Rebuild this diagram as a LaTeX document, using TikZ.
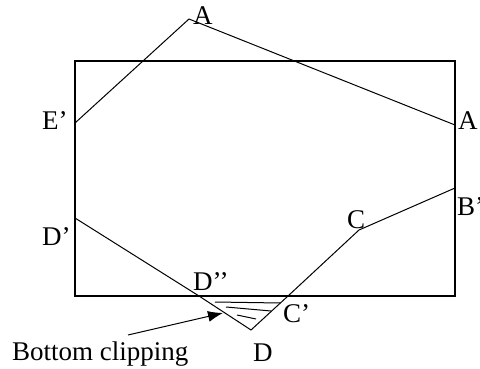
\documentclass[tikz,border=0pt]{standalone}
\usepackage{fontspec}
\setmainfont{Liberation Serif}
\usetikzlibrary{arrows.meta}

\begin{document}
\begin{tikzpicture}[x=1pt,y=-1pt,>=Latex,font=\fontsize{27}{31}\selectfont]

\tikzset{
win/.style={line width=2.2pt},
poly/.style={line width=1pt},
hatch/.style={line width=1pt},
lbl/.style={anchor=base west,inner sep=0pt}
}

\useasboundingbox (0,0) rectangle (480,369);

% clipping window
\draw[win] (75,61) rectangle (455,296);

% polygon points
\coordinate (Ep) at (75,123);
\coordinate (Atop) at (189,19);
\coordinate (Ar) at (455,125);
\coordinate (Bp) at (455,188);
\coordinate (C) at (359,230);
\coordinate (Cp) at (288,296);
\coordinate (D) at (251,330);
\coordinate (Dpp) at (199,296);
\coordinate (Dp) at (75,218);

\draw[poly] (Ep) -- (Atop) -- (Ar);
\draw[poly] (Bp) -- (C) -- (Cp) -- (D) -- (Dpp) -- (Dp);

% clipped part
\draw[hatch] (215,302) -- (280,303);
\draw[hatch] (226,307) -- (271,311);
\draw[hatch] (237,315) -- (256,319);

% labels
\node[lbl] (lAtop) at (193,25) {A};
\node[lbl] (lAr) at (458,130) {A};
\node[lbl] (lBp) at (457,215) {B’};
\node[lbl] (lEp) at (42,129) {E’};
\node[lbl] (lDp) at (42,245) {D’};
\node[lbl] (lDpp) at (193,290) {D’’};
\node[lbl] (lC) at (347,228) {C};
\node[lbl] (lCp) at (283,322) {C’};
\node[lbl] (lD) at (253,361) {D};
\node[lbl] (clip) at (12,360) {Bottom clipping};

\coordinate (tail) at (128,335);
\coordinate (tip) at (223,313);
\draw[line width=1pt,-{Latex[length=15pt,width=11pt]}] (tail) -- (tip);

\end{tikzpicture}
\end{document}
